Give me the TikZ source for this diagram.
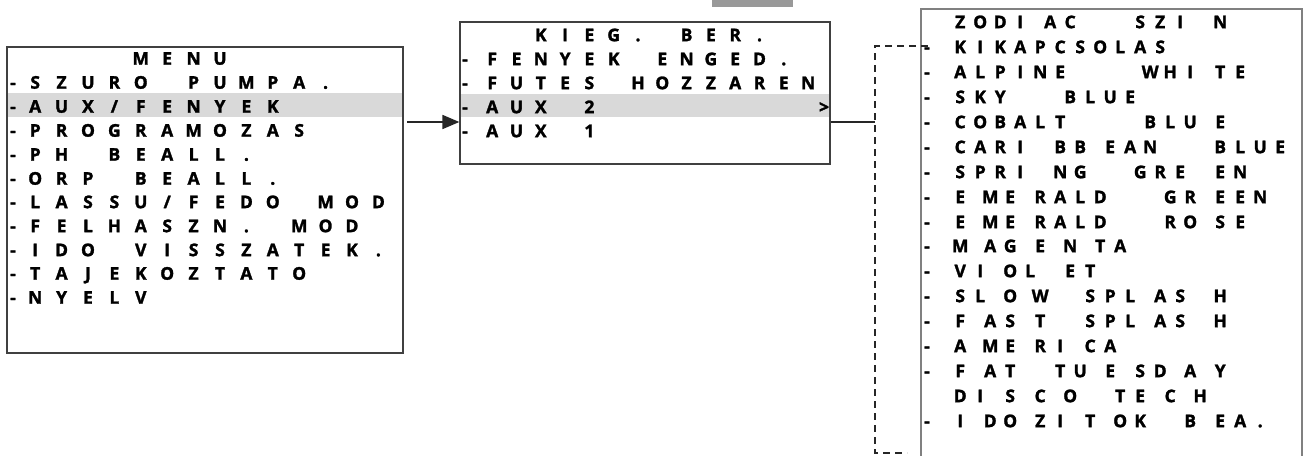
\documentclass[tikz,border=0pt]{standalone}
\usepackage{fontspec}
\setmainfont{Open Sans}[BoldFont={Open Sans Bold}, BoldFeatures={FakeBold=1.6}]
\usetikzlibrary{arrows.meta}
\ExplSyntaxOn
\NewDocumentCommand\gridtext{mm}{
  \exp_args:No \str_map_inline:nn {#2} {
    \str_case:nnF {##1} {
      {_} {\hbox_to_wd:nn {#1}{}}
      {|} {\hbox_to_wd:nn {(#1)/2}{}}
    } {\hbox_to_wd:nn {#1}{\hfil ##1 \hfil}}
  }
}
\ExplSyntaxOff
\definecolor{hl}{HTML}{D9D9D9}
\definecolor{bar}{HTML}{999999}
\definecolor{frameA}{HTML}{404040}
\definecolor{frameC}{HTML}{808080}
\tikzset{
  row/.style={anchor=base west, inner sep=0pt, font=\fontsize{17.5}{17.5}\selectfont\bfseries},
  dashmark/.style={anchor=base, inner sep=0pt, font=\fontsize{17.5}{17.5}\selectfont\bfseries},
  menubox/.style={draw=frameA, line width=1.2pt, inner sep=0pt},
  conn/.style={draw=black!85, line width=1.8pt},
  dconn/.style={draw=black!85, line width=2pt, dash pattern=on 7pt off 5pt},
}
\begin{document}
\begin{tikzpicture}[x=1pt,y=-1pt]
\useasboundingbox (0,0) rectangle (1303,455);
% gray bar at top
\fill[bar] (712,0) rectangle (793,7);
% ---------- box 1 ----------
\fill[hl] (7,93) rectangle (403,117);
\node[menubox, minimum width=396pt, minimum height=306pt] (m1) at (205,200) {};
\foreach \y/\s [count=\i] in {58.5/{____MENU}, 82.5/{SZURO_PUMPA.}, 106.5/{AUX/FENYEK}, 130.5/{PROGRAMOZAS}, 154.5/{PH_BEALL.}, 178.5/{ORP_BEALL.}, 202/{LASSU/FEDO_MOD}, 226/{FELHASZN._MOD}, 250/{IDO_VISSZATEK.}, 273.5/{TAJEKOZTATO}, 297.5/{NYELV}}{
  \node[row] (r1-\i) at (21.8,\y+6.2) {\gridtext{26.4pt}{\s}};
}
\foreach \y [count=\i] in {82.5,106.5,130.5,154.5,178.5,202,226,250,273.5,297.5}{
  \node[dashmark] (d1-\i) at (13,\y+6.2) {-};
}
% ---------- box 2 ----------
\fill[hl] (460,94) rectangle (830,117);
\node[menubox, minimum width=370pt, minimum height=142pt] (m2) at (645,93) {};
\foreach \y/\s [count=\i] in {35/{__KIEG._BER.}, 59/{FENYEK_ENGED.}, 83/{FUTES_HOZZAREN}, 107/{AUX_2}, 131/{AUX_1}}{
  \node[row] (r2-\i) at (479.85,\y+6.2) {\gridtext{24.3pt}{\s}};
}
\foreach \y [count=\i] in {59,83,107,131}{
  \node[dashmark] (d2-\i) at (465,\y+6.2) {-};
}
\node[dashmark] (gt) at (824,107+6.2) {>};
% ---------- box 3 ----------
\draw[frameC, line width=1.5pt] (921,456) -- (921,9) -- (1302,9) -- (1302,456);
\foreach \y/\s [count=\i] in {
  22/{ZODI|AC__|SZI_N},
  47/{KIKAPCSOLAS},
  72/{ALPINE___|WHI|TE},
  97/{SKY__|BLUE},
  122/{COBALT___|BLU|E},
  147/{CARI_BB|EAN__|BLUE},
  172/{SPRI_NG__GRE_EN},
  197/{E|ME|RALD__|GR|EEN},
  222/{E|ME|RALD__|RO|SE},
  246/{M|AG|E|N|TA},
  271/{VI|OL_ET},
  296/{SL|O|W_|SPL|AS_H},
  321/{F|AS|T_|SPL|AS_H},
  346/{A|ME|RI|CA},
  371/{F|AT_|TU|E|SD|A|Y},
  396/{DI|S|C|O_|TE|C|H},
  421/{I|DO|ZI|T|OK_|B|EA.}}{
  \node[row] (r3-\i) at (950,\y+6.2) {\gridtext{20pt}{\s}};
}
\foreach \y [count=\i] in {47,72,97,122,147,172,197,222,246,271,296,321,346,371,421}{
  \node[dashmark] (d3-\i) at (927,\y+6.2) {-};
}
% ---------- connectors ----------
\coordinate (a1s) at (407,122);
\draw[conn, -{Triangle[length=17pt,width=14pt]}] (a1s) -- (a1s -| m2.west);
\coordinate (a2s) at (m2.east |- 0,122);
\coordinate (jn) at (875,122);
\draw[conn] (a2s) -- (jn);
\coordinate (bt) at (875,46);
\coordinate (bb) at (875,453);
\coordinate (et) at (928,46);
\coordinate (eb) at (907,453);
\draw[dconn] (et) -- (bt) -- (bb) -- (eb);
\end{tikzpicture}
\end{document}
